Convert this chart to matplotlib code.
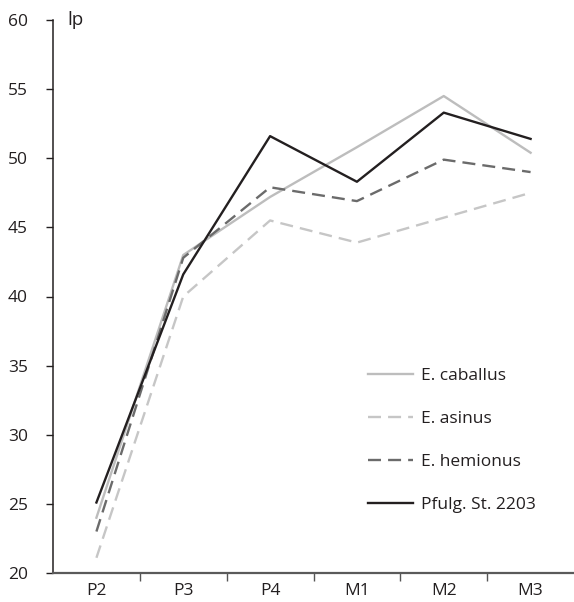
import matplotlib
matplotlib.use("Agg")
import matplotlib.pyplot as plt
from matplotlib.ticker import FixedLocator

plt.rcParams['font.family'] = ['Open Sans', 'DejaVu Sans']

categories = ["P2", "P3", "P4", "M1", "M2", "M3"]
caballus = [24.0, 43.0, 47.2, 50.8, 54.5, 50.4]
asinus = [21.1, 40.0, 45.5, 43.9, 45.7, 47.5]
hemionus = [23.0, 42.8, 47.9, 46.9, 49.9, 49.0]
pfulg = [25.1, 41.6, 51.6, 48.3, 53.3, 51.4]
yticks = [20, 25, 30, 35, 40, 45, 50, 55, 60]

FS = 12.5
fig = plt.figure(figsize=(5.74, 6.02), dpi=100)
ax = fig.add_axes([53/574, 1 - 573/602, 521/574, 553/602])

x = list(range(len(categories)))
ax.plot(x, caballus, color="#bdbdbd", lw=1.7, label="E. caballus")
ax.plot(x, asinus, color="#c6c6c6", lw=1.7, dashes=(5.5, 3), label="E. asinus")
ax.plot(x, hemionus, color="#6b6b6b", lw=1.7, dashes=(5.5, 3), label="E. hemionus")
ax.plot(x, pfulg, color="#231f20", lw=1.7, label="Pfulg. St. 2203")

ax.set_xlim(-0.5, len(categories) - 0.5)
ax.set_ylim(20, 60)
ax.set_yticks(yticks)
ax.set_yticklabels([str(t) for t in yticks])
ax.set_xticks(x)
ax.set_xticklabels(categories)
ax.xaxis.set_minor_locator(FixedLocator([i + 0.5 for i in range(len(categories) - 1)]))
ax.tick_params(axis='x', which='major', length=0, pad=7, labelsize=FS, colors="#231f20")
ax.tick_params(axis='x', which='minor', length=6, width=1, color="#555555")
ax.tick_params(axis='y', length=5, width=1, pad=13, labelsize=FS, colors="#231f20")

for s in ["top", "right"]:
    ax.spines[s].set_visible(False)
ax.spines["left"].set_color("#231f20")
ax.spines["left"].set_linewidth(1.1)
ax.spines["bottom"].set_color("#5a5a5a")
ax.spines["bottom"].set_linewidth(1.6)

ax.text(0.027, 1.0, "lp", transform=ax.transAxes, fontsize=FS + 1, color="#231f20",
        va='center', ha='left')

leg = ax.legend(loc='upper left', bbox_to_anchor=(0.574, 0.40), frameon=False,
                fontsize=FS, handlelength=2.6, handletextpad=0.45,
                labelspacing=1.55, labelcolor="#231f20")

fig.savefig("out.png", dpi=100)
